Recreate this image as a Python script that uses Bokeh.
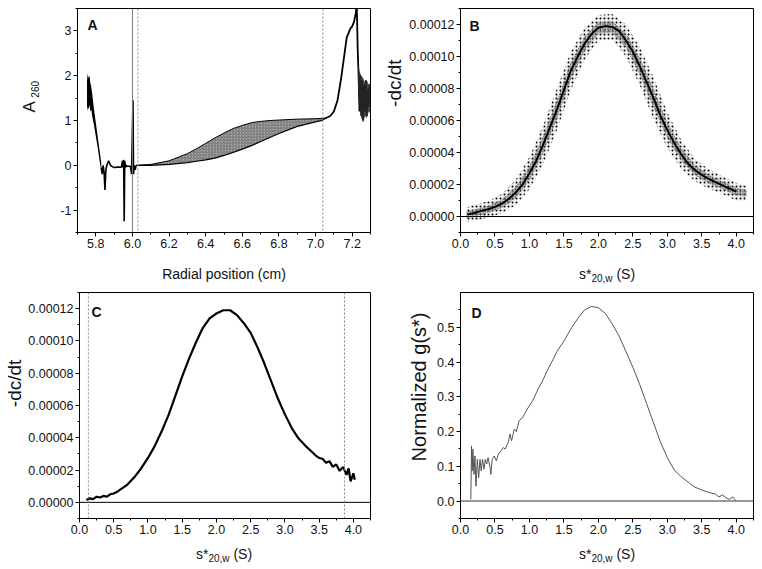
import math
from bokeh.plotting import figure
from bokeh.models import (Range1d, SingleIntervalTicker, NumeralTickFormatter,
                          Span, Label)
from bokeh.layouts import column, row
from bokeh.embed import file_html
from bokeh.resources import INLINE

FONT = "Liberation Sans"

# ---------------- Panel A: absorbance scans ----------------
a_xrange = (5.7, 7.3)
a_yrange = (-1.5, 3.5)
blob_r = [5.752, 5.756, 5.760, 5.765, 5.770, 5.775, 5.780, 5.79, 5.80, 5.81,
          5.82, 5.83]
blob_hi = [1.9, 2.05, 1.95, 2.0, 1.85, 1.75, 1.6, 1.25, 0.95, 0.65, 0.35, 0.05]
blob_lo = [1.2, 1.3, 1.25, 1.35, 1.2, 1.25, 1.1, 0.9, 0.65, 0.4, 0.12, -0.15]
menisc_r = [5.83, 5.835, 5.84, 5.845, 5.85, 5.855, 5.86, 5.865, 5.87, 5.875,
            5.88, 5.89, 5.90, 5.92, 5.94, 5.945, 5.948, 5.952, 5.955, 5.958,
            5.962, 5.965, 5.97, 5.98, 5.99, 5.995, 6.003, 6.006, 6.01, 6.015,
            6.02]
menisc_a = [-0.05, -0.2, 0.0, -0.15, -0.55, -0.1, 0.0, 0.05, 0.1, 0.05,
            0.0, -0.03, -0.05, -0.04, -0.04, 0.1, -0.05, 0.12, -1.25, 0.1,
            -0.05, 0.0, -0.02, -0.02, -0.03, -0.2, 1.45, -0.2, 0.0, -0.1, 0.0]
band_r = [6.02, 6.1, 6.2, 6.3, 6.35, 6.4, 6.45, 6.5, 6.55, 6.6, 6.65, 6.7,
          6.75, 6.8, 6.9, 7.0, 7.04]
band_hi = [0.0, 0.02, 0.10, 0.26, 0.37, 0.49, 0.61, 0.72, 0.82, 0.89, 0.95,
           0.98, 1.0, 1.01, 1.03, 1.04, 1.05]
band_lo = [0.0, 0.0, 0.02, 0.06, 0.09, 0.12, 0.16, 0.22, 0.29, 0.36, 0.44,
           0.53, 0.62, 0.71, 0.87, 0.97, 1.01]
bottom_r = [7.04, 7.06, 7.08, 7.10, 7.12, 7.14, 7.16, 7.17, 7.18, 7.19, 7.20,
            7.21, 7.22, 7.225, 7.23, 7.235, 7.24, 7.245, 7.25, 7.255, 7.26,
            7.265, 7.27, 7.275, 7.28, 7.285, 7.29, 7.295, 7.30]
bottom_a = [1.03, 1.06, 1.1, 1.2, 1.45, 1.95, 2.55, 2.85, 2.95, 3.05, 3.1,
            3.2, 3.4, 3.6, 2.6, 2.0, 1.2, 2.0, 1.1, 1.9, 1.0, 1.8, 1.2, 1.9,
            1.1, 1.7, 1.3, 1.8, 1.4]
tail_r = [7.232, 7.24, 7.25, 7.26, 7.27, 7.28, 7.29, 7.30]
tail_hi = [2.3, 2.1, 2.0, 1.95, 1.85, 1.9, 1.8, 1.85]
tail_lo = [1.7, 1.25, 1.05, 0.95, 1.1, 1.05, 1.2, 1.15]
a_solid_line = 6.0
a_dash_lines = [6.03, 7.04]

# ---------------- Panel B: -dc/dt with scatter ----------------
UNIT = 1e-5
s_range = (0.0, 4.25)
dcdt_range = (-1.0, 13.0)          # in units of 1e-5
b_s = [0.1, 0.2, 0.3, 0.4, 0.5, 0.6, 0.7, 0.8, 0.9, 1.0, 1.1, 1.2, 1.3, 1.4,
       1.5, 1.6, 1.7, 1.8, 1.9, 2.0, 2.1, 2.2, 2.3, 2.4, 2.5, 2.6, 2.7, 2.8,
       2.9, 3.0, 3.1, 3.2, 3.3, 3.4, 3.5, 3.6, 3.7, 3.8, 3.9, 4.0]
b_fit = [0.12, 0.22, 0.35, 0.45, 0.6, 0.8, 1.1, 1.5, 2.0, 2.7, 3.5, 4.5, 5.6,
         6.7, 7.9, 9.1, 10.0, 10.8, 11.4, 11.8, 11.9, 11.85, 11.6, 11.0, 10.3,
         9.4, 8.4, 7.4, 6.3, 5.4, 4.6, 3.9, 3.3, 2.9, 2.6, 2.35, 2.15, 1.95,
         1.75, 1.55]
cloud_s = [0.08, 0.2, 0.4, 0.6, 0.8, 1.0, 1.2, 1.4, 1.6, 1.8, 2.0, 2.2, 2.4,
           2.6, 2.8, 3.0, 3.2, 3.4, 3.6, 3.8, 4.0, 4.15]
cloud_mid = [0.1, 0.22, 0.45, 0.8, 1.5, 2.7, 4.5, 6.7, 9.1, 10.8, 11.8, 11.85,
             11.0, 9.4, 7.4, 5.4, 3.9, 2.9, 2.35, 1.95, 1.55, 1.45]
cloud_half = [0.45, 0.5, 0.5, 0.6, 0.8, 1.0, 1.2, 1.3, 1.2, 1.0, 0.8, 0.8, 1.0,
              1.2, 1.3, 1.1, 0.9, 0.7, 0.6, 0.55, 0.55, 0.45]

# ---------------- Panel C: smoothed -dc/dt ----------------
c_s = [0.1, 0.15, 0.2, 0.25, 0.3, 0.35, 0.4, 0.45, 0.5, 0.55, 0.6, 0.7, 0.8,
       0.9, 1.0, 1.1, 1.2, 1.3, 1.4, 1.5, 1.6, 1.7, 1.8, 1.9, 2.0, 2.1, 2.2,
       2.3, 2.4, 2.5, 2.6, 2.7, 2.8, 2.9, 3.0, 3.1, 3.2, 3.3, 3.4, 3.45, 3.5,
       3.55, 3.6, 3.65, 3.7, 3.75, 3.8, 3.85, 3.9, 3.93, 3.96, 4.0, 4.02]
c_v = [0.15, 0.25, 0.2, 0.35, 0.3, 0.4, 0.35, 0.5, 0.55, 0.65, 0.8, 1.1, 1.55,
       2.1, 2.75, 3.5, 4.4, 5.4, 6.6, 7.8, 8.9, 9.9, 10.8, 11.4, 11.7, 11.9,
       11.9, 11.6, 11.1, 10.5, 9.6, 8.6, 7.5, 6.4, 5.45, 4.6, 3.95, 3.5, 3.1,
       2.9, 2.75, 2.7, 2.45, 2.55, 2.2, 2.35, 1.95, 2.2, 1.7, 2.1, 1.3, 1.8, 1.4]
c_dash_lines = [0.13, 3.87]

# ---------------- Panel D: normalized g(s*) ----------------
g_range = (-0.05, 0.6)
d_s = [0.15, 0.16, 0.17, 0.18, 0.195, 0.21, 0.225, 0.244, 0.263, 0.283, 0.30,
       0.32, 0.34, 0.36, 0.38, 0.40, 0.43, 0.44, 0.46, 0.49, 0.52, 0.55, 0.59,
       0.62, 0.65, 0.69, 0.72, 0.74, 0.78, 0.81, 0.85, 0.9, 0.97, 1.05, 1.12,
       1.2, 1.26, 1.35, 1.41, 1.5, 1.6, 1.7, 1.8, 1.9, 2.0, 2.1, 2.2, 2.3, 2.4,
       2.5, 2.6, 2.7, 2.8, 2.9, 3.0, 3.1, 3.2, 3.3, 3.4, 3.5, 3.6, 3.7, 3.75,
       3.8, 3.85, 3.9, 3.95, 4.0]
d_g = [0.005, 0.159, 0.087, 0.149, 0.077, 0.13, 0.043, 0.12, 0.067, 0.12,
       0.087, 0.12, 0.092, 0.12, 0.107, 0.125, 0.096, 0.077, 0.12, 0.13, 0.116,
       0.135, 0.145, 0.154, 0.15, 0.168, 0.193, 0.173, 0.207, 0.2, 0.231, 0.24,
       0.265, 0.29, 0.32, 0.35, 0.376, 0.41, 0.434, 0.46, 0.495, 0.525, 0.55,
       0.56, 0.556, 0.54, 0.51, 0.475, 0.43, 0.385, 0.335, 0.28, 0.225, 0.17,
       0.125, 0.09, 0.07, 0.055, 0.04, 0.032, 0.025, 0.02, 0.012, 0.018, 0.01,
       0.005, 0.012, 0.0]

# ---------------- geometry / styling ----------------
FW = 293
FH_TOP = 224
FH_BOT = 226
TICK_FS = 12.5
XT_FS = 14
SUB_FS = 10
INK = "#111111"
UP = math.pi / 2

# Arial / Liberation Sans advance widths (em)
ADV = {"s": 0.5, "*": 0.389, "2": 0.556, "0": 0.556, ",": 0.278, "w": 0.722,
       " ": 0.278, "(": 0.333, "S": 0.667, ")": 0.333}


def tw(text, size):
    return sum(ADV[c] for c in text) * size


def make_fig(width, height, left, right, top, bottom, xr, yr):
    p = figure(width=width, height=height, x_range=Range1d(*xr),
               y_range=Range1d(*yr), output_backend="svg",
               toolbar_location=None, min_border_left=left,
               min_border_right=right, min_border_top=top,
               min_border_bottom=bottom)
    p.xgrid.visible = False
    p.ygrid.visible = False
    p.outline_line_color = "black"
    p.outline_line_alpha = 1.0
    p.outline_line_width = 1
    p.background_fill_color = "white"
    p.border_fill_color = "white"
    for ax in (p.xaxis[0], p.yaxis[0]):
        ax.axis_line_color = "black"
        ax.major_tick_line_color = "black"
        ax.minor_tick_line_color = "black"
        ax.major_tick_out = 4
        ax.major_tick_in = 0
        ax.minor_tick_out = 2
        ax.minor_tick_in = 0
        ax.major_label_standoff = 2
        ax.major_label_text_font = FONT
        ax.major_label_text_font_size = f"{TICK_FS}px"
        ax.major_label_text_color = INK
    return p


def strip(w, h):
    f = figure(width=w, height=h, x_range=Range1d(0, w), y_range=Range1d(0, h),
               output_backend="svg", toolbar_location=None,
               x_axis_type=None, y_axis_type=None, min_border_left=0,
               min_border_right=0, min_border_top=0, min_border_bottom=0)
    f.grid.visible = False
    f.outline_line_color = None
    f.background_fill_color = "white"
    f.border_fill_color = "white"
    return f


def lab(f, x, y, text, size, bold=False, align="left", baseline="alphabetic",
        angle=0.0):
    f.add_layout(Label(x=x, y=y, text=text, text_font=FONT,
                       text_font_size=f"{size}px",
                       text_font_style="bold" if bold else "normal",
                       text_align=align, text_baseline=baseline, angle=angle,
                       text_color=INK))


def vlab(f, x, y, text, size):
    # rotated title, anchored at the centre of its text box
    lab(f, x, y, text, size, align="center", baseline="middle", angle=UP)


def letter(p, fh, dx, dy, text):
    x0, x1 = p.x_range.start, p.x_range.end
    y0, y1 = p.y_range.start, p.y_range.end
    lab(p, x0 + dx / FW * (x1 - x0), y1 - dy / fh * (y1 - y0), text, 14,
        bold=True, baseline="top")


def s_title(f, cx, y):
    w1 = tw("s*", XT_FS)
    w2 = tw("20,w", SUB_FS)
    w3 = tw(" (S)", XT_FS)
    start = cx - (w1 + w2 + w3) / 2
    lab(f, start, y, "s*", XT_FS)
    lab(f, start + w1, y - 5, "20,w", SUB_FS)
    lab(f, start + w1 + w2 + tw(" ", XT_FS), y, "(S)", XT_FS)


# ---------------- Panel A ----------------
pA = make_fig(340, 255, 35, 12, 8, 23, a_xrange, a_yrange)
pA.xaxis.ticker = SingleIntervalTicker(interval=0.2, num_minor_ticks=2)
pA.yaxis.ticker = SingleIntervalTicker(interval=1, num_minor_ticks=2)
pA.xaxis.formatter = NumeralTickFormatter(format="0.0")
pA.yaxis.formatter = NumeralTickFormatter(format="0")
pA.add_layout(Span(location=a_solid_line, dimension="height",
                   line_color="#7a7a7a", line_width=1))
for loc in a_dash_lines:
    pA.add_layout(Span(location=loc, dimension="height", line_color="#8a8a8a",
                       line_width=1, line_dash="2 2"))
pA.varea(x=band_r, y1=band_lo, y2=band_hi, fill_color="#ababab",
         hatch_pattern="/", hatch_scale=3, hatch_weight=0.6,
         hatch_color="#444444")
pA.line(band_r, band_hi, line_color="black", line_width=1)
pA.line(band_r, band_lo, line_color="black", line_width=1.2)
pA.varea(x=blob_r, y1=blob_lo, y2=blob_hi, fill_color="black")
pA.line(menisc_r, menisc_a, line_color="black", line_width=1.6)
pA.line(bottom_r, bottom_a, line_color="black", line_width=1.8)
pA.varea(x=tail_r, y1=tail_lo, y2=tail_hi, fill_color="#2a2a2a",
         fill_alpha=0.85)
letter(pA, FH_TOP, 10, 8, "A")

# ---------------- Panel B ----------------
yr_b = (dcdt_range[0] * UNIT, dcdt_range[1] * UNIT)
pB = make_fig(356, 255, 54, 9, 8, 23, s_range, yr_b)
pB.xaxis.ticker = SingleIntervalTicker(interval=0.5, num_minor_ticks=2)
pB.yaxis.ticker = SingleIntervalTicker(interval=2 * UNIT, num_minor_ticks=2)
pB.xaxis.formatter = NumeralTickFormatter(format="0.0")
pB.yaxis.formatter = NumeralTickFormatter(format="0.00000")
pB.add_layout(Span(location=0, dimension="width", line_color="black",
                   line_width=1))
outer_lo = [(m - h) * UNIT for m, h in zip(cloud_mid, cloud_half)]
outer_hi = [(m + h) * UNIT for m, h in zip(cloud_mid, cloud_half)]
inner_lo = [(m - 0.45 * h) * UNIT for m, h in zip(cloud_mid, cloud_half)]
inner_hi = [(m + 0.45 * h) * UNIT for m, h in zip(cloud_mid, cloud_half)]
pB.varea(x=cloud_s, y1=outer_lo, y2=outer_hi, fill_color="#d8d8d8",
         fill_alpha=0.35, hatch_pattern=".", hatch_scale=4, hatch_weight=0.9,
         hatch_color="black")
pB.varea(x=cloud_s, y1=inner_lo, y2=inner_hi, fill_color="#a0a0a0",
         fill_alpha=0.5, hatch_pattern=".", hatch_scale=2.5, hatch_weight=0.9,
         hatch_color="black")
pB.line(b_s, [v * UNIT for v in b_fit], line_color="black", line_width=2)
letter(pB, FH_TOP, 9, 9, "B")

# ---------------- Panel C ----------------
pC = make_fig(381, 256, 52, 36, 8, 22, s_range, yr_b)
pC.xaxis.ticker = SingleIntervalTicker(interval=0.5, num_minor_ticks=2)
pC.yaxis.ticker = SingleIntervalTicker(interval=2 * UNIT, num_minor_ticks=2)
pC.xaxis.formatter = NumeralTickFormatter(format="0.0")
pC.yaxis.formatter = NumeralTickFormatter(format="0.00000")
pC.add_layout(Span(location=0, dimension="width", line_color="black",
                   line_width=1))
for loc in c_dash_lines:
    pC.add_layout(Span(location=loc, dimension="height", line_color="#8a8a8a",
                       line_width=1, line_dash="2 2"))
pC.line(c_s, [v * UNIT for v in c_v], line_color="black", line_width=2.2)
letter(pC, FH_BOT, 12, 11, "C")

# ---------------- Panel D ----------------
pD = make_fig(331, 256, 29, 9, 8, 22, s_range, g_range)
pD.xaxis.ticker = SingleIntervalTicker(interval=0.5, num_minor_ticks=2)
pD.yaxis.ticker = SingleIntervalTicker(interval=0.1, num_minor_ticks=2)
pD.xaxis.formatter = NumeralTickFormatter(format="0.0")
pD.yaxis.formatter = NumeralTickFormatter(format="0.0")
pD.add_layout(Span(location=0, dimension="width", line_color="#777777",
                   line_width=1.5))
pD.line(d_s, d_g, line_color="#555555", line_width=1)
letter(pD, FH_BOT, 11, 12, "D")

# ---------------- axis title strips ----------------
yA = strip(42, 255)
vlab(yA, 29, 143, "A", 17)
vlab(yA, 34.5, 163, "260", SUB_FS)
yB = strip(24, 255)
vlab(yB, 12.4, 170, "-dc/dt", 19)
yC = strip(25, 256)
vlab(yC, 14.4, 153, "-dc/dt", 19)
yD = strip(25, 256)
vlab(yD, 12, 149, "Normalized g(s*)", 20)

xt1 = strip(762, 29)
lab(xt1, 223.5, 11, "Radial position (cm)", XT_FS, align="center")
s_title(xt1, 606.5, 11)
xt2 = strip(762, 29)
s_title(xt2, 223.5, 16)
s_title(xt2, 606.5, 16)

layout = column(row(yA, pA, yB, pB), xt1, row(yC, pC, yD, pD), xt2)
open("out.html", "w").write(file_html(layout, INLINE))
